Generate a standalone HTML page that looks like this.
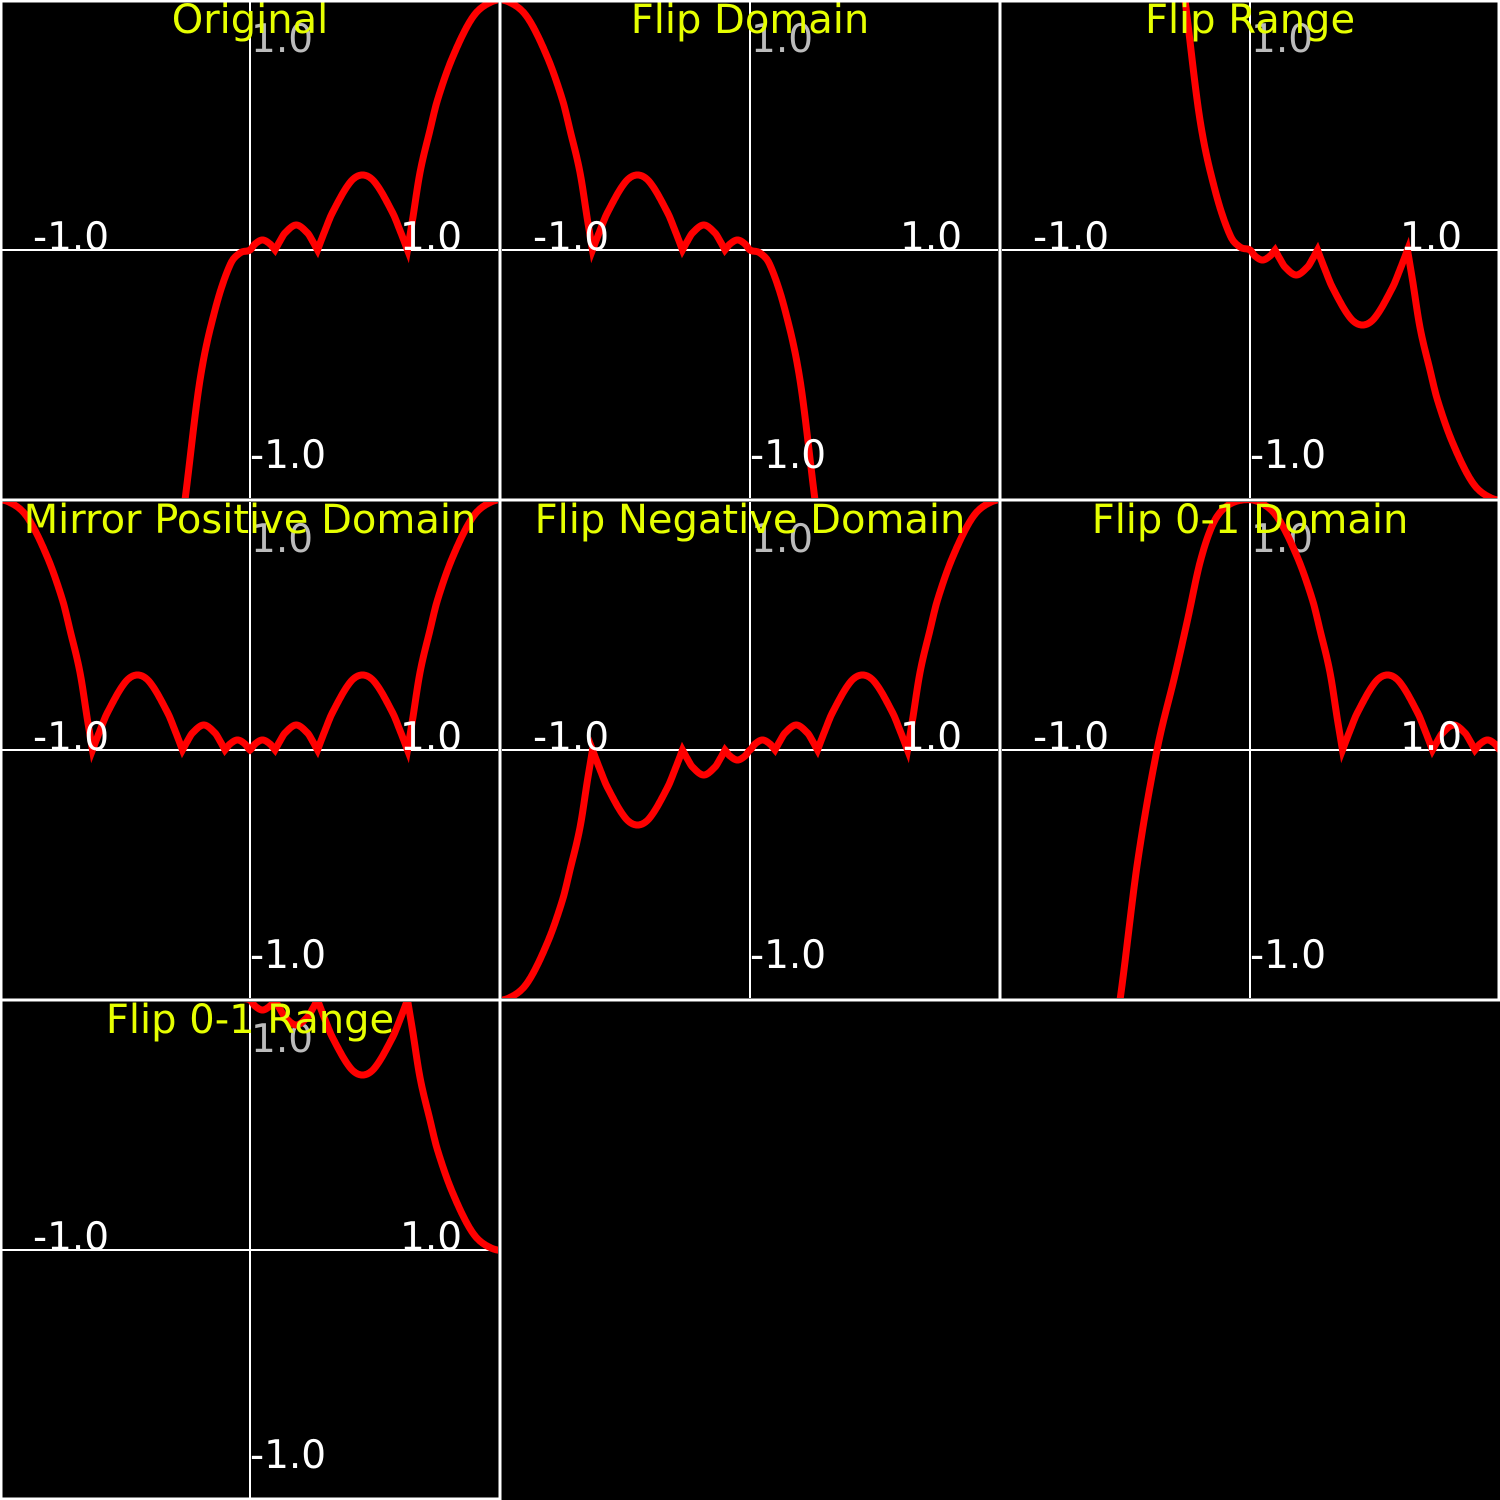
<!DOCTYPE html>
<html><head><meta charset="utf-8"><style>
html,body{margin:0;padding:0;background:#000;}
svg{display:block;}
text{font-family:"DejaVu Sans","Liberation Sans",sans-serif;}
</style></head><body>
<svg id="chart" width="1500" height="1500" viewBox="0 0 1500 1500">
<rect x="0" y="0" width="1500" height="1500" fill="#000"/>
</svg>
<script>
// Original function samples (data units)
const fx = [-2.0,-0.5,-0.3,-0.26,-0.2,-0.14,-0.08,-0.04,0.0,0.02,0.05,0.08,0.1,0.12,0.14,0.185,0.23,0.25,0.27,0.3,0.33,0.4,0.45,0.5,0.57,0.6,0.63,0.65,0.68,0.72,0.75,0.81,0.89,0.96,1.03,1.1,1.15,1.2,1.25,1.3,1.372,1.45,1.52,1.6,2.0,2.5];
const fy = [-8.0,-2.5,-1.3,-1.0,-0.52,-0.24,-0.06,-0.012,0.0,0.024,0.04,0.024,0.0,0.036,0.068,0.1,0.068,0.036,0.0,0.078,0.15,0.27,0.3,0.27,0.15,0.078,0.0,0.12,0.31,0.48,0.6,0.77,0.93,0.99,1.0,0.97,0.9,0.75,0.52,0.3,0.0,-0.45,-1.0,-1.5,-3.0,-5.0];
const cusps = [0.1,0.27,0.63];
const titles = ["Original","Flip Domain","Flip Range","Mirror Positive Domain","Flip Negative Domain","Flip 0-1 Domain","Flip 0-1 Range"];
const tickLabels = ["-1.0","1.0","1.0","-1.0"];

function f(x){
  let i=0; while(i<fx.length-2 && x>fx[i+1]) i++;
  const x0=fx[i],x1=fx[i+1],y0=fy[i],y1=fy[i+1];
  const t=(x-x0)/(x1-x0);
  const isC=v=>cusps.indexOf(v)>=0;
  let m0 = (i>0 && !isC(x0)) ? (fy[i+1]-fy[i-1])/(fx[i+1]-fx[i-1])*(x1-x0) : (y1-y0);
  let m1 = (i+2<fx.length && !isC(x1)) ? (fy[i+2]-fy[i])/(fx[i+2]-fx[i])*(x1-x0) : (y1-y0);
  const t2=t*t,t3=t2*t;
  return (2*t3-3*t2+1)*y0+(t3-2*t2+t)*m0+(-2*t3+3*t2)*y1+(t3-t2)*m1;
}
const transforms = [
  x=>f(x),
  x=>f(-x),
  x=>-f(x),
  x=>f(Math.abs(x)),
  x=>x<0?-f(-x):f(x),
  x=>f(1-x),
  x=>1-f(x)
];
const svg=document.getElementById('chart');
const NS='http://www.w3.org/2000/svg';
function mk(tag,attrs,parent){const e=document.createElementNS(NS,tag);for(const k in attrs)e.setAttribute(k,attrs[k]);(parent||svg).appendChild(e);return e;}
const sx=x=>250+x*250, sy=y=>250-y*250;

titles.forEach((title,k)=>{
  const ox=(k%3)*500, oy=Math.floor(k/3)*500;
  const g=mk('g',{transform:`translate(${ox},${oy})`});
  
  
  const cid='clip'+k;
  const cp=mk('clipPath',{id:cid},g); mk('rect',{x:2,y:2,width:496,height:496},cp);
  const inner=mk('g',{'clip-path':`url(#${cid})`},g);
  const xa=mk('line',{x1:0,y1:250,x2:500,y2:250,stroke:'#fff','stroke-width':2},inner);
  
  
  const ya=mk('line',{x1:250,y1:0,x2:250,y2:500,stroke:'#fff','stroke-width':2},inner);
  
  
  const top=mk('text',{x:251,y:52,fill:'#bbb','font-size':39},inner); top.textContent=tickLabels[2];
  
  
  let pts=[];
  for(let x=-1.01;x<=1.011;x+=0.002){let y=transforms[k](x);y=Math.max(-3,Math.min(3,y));pts.push(sx(x).toFixed(1)+','+sy(y).toFixed(1));}
  const pl=mk('polyline',{points:pts.join(' '),fill:'none',stroke:'#ff0000','stroke-width':7,'stroke-linejoin':'miter','stroke-miterlimit':10},inner);
  
  
  const l1=mk('text',{x:33,y:250,fill:'#fff','font-size':39},inner); l1.textContent=tickLabels[0];
  
  
  const l2=mk('text',{x:400,y:250,fill:'#fff','font-size':39},inner); l2.textContent=tickLabels[1];
  
  
  const l3=mk('text',{x:250,y:468,fill:'#fff','font-size':39},inner); l3.textContent=tickLabels[3];
  
  
  const tt=mk('text',{x:250,y:33,fill:'#e6ff00','font-size':40,'text-anchor':'middle'},g); tt.textContent=title;
  
  
});
const borders=[[0,1,1500,1],[1,0,1,1500],[0,500,1500,500],[0,1000,1500,1000],[500,0,500,1500],[1000,0,1000,1000],[1499,0,1499,1000],[0,1499,500,1499]];
borders.forEach(b=>{
  const l=mk('line',{x1:b[0],y1:b[1],x2:b[2],y2:b[3],stroke:'#fff','stroke-width':3});
  
  
});
</script>
</body></html>
